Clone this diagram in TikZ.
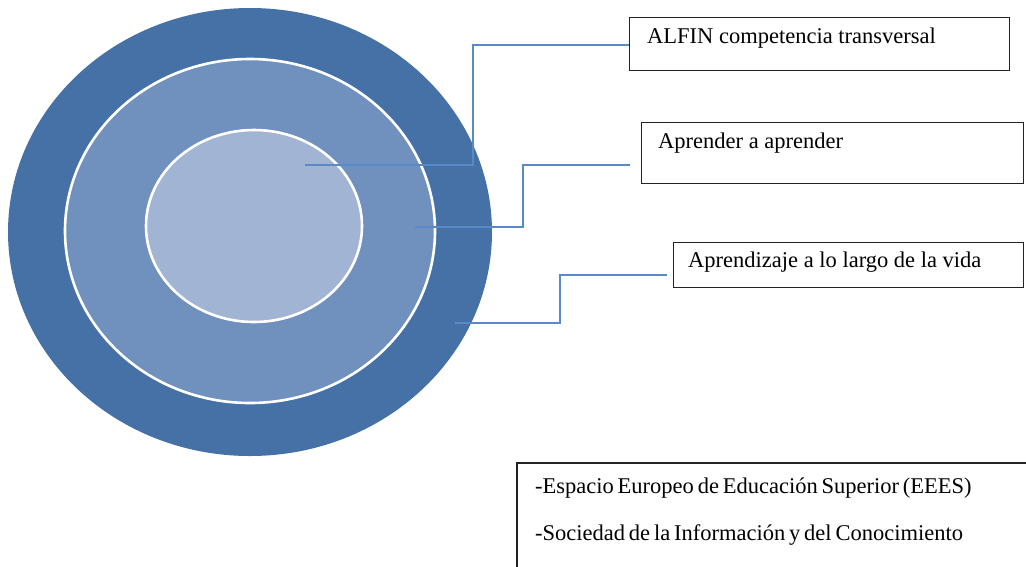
\documentclass[tikz,border=0pt]{standalone}
\usepackage{fontspec}
\setmainfont{Liberation Serif}
\definecolor{outerblue}{HTML}{4571A7}
\definecolor{midblue}{HTML}{7090BE}
\definecolor{innerblue}{HTML}{A2B4D4}
\definecolor{linkblue}{HTML}{5A8AC6}
\definecolor{boxline}{HTML}{222222}
\begin{document}
\begin{tikzpicture}[x=1pt,y=-1pt,
  box/.style={draw=boxline,line width=1.4pt,fill=white,inner sep=0pt,anchor=north west},
  lbl/.style={anchor=base west,inner sep=0pt,font=\fontsize{22.5}{27}\selectfont},
  tight/.style={lbl,execute at begin node={\spaceskip=0.17em plus 0.05em\relax}},
  link/.style={draw=linkblue,line width=1.2pt},
  ring/.style={draw=white,line width=2.6pt}]
\useasboundingbox (0,0) rectangle (1026,566);
% rings
\fill[outerblue] (250,232) ellipse [x radius=242,y radius=224];
\filldraw[ring,fill=midblue] (250,231) ellipse [x radius=185,y radius=172];
\filldraw[ring,fill=innerblue] (254,226) ellipse [x radius=108,y radius=96];
% anchor points inside rings
\coordinate (p1) at (305,165);
\coordinate (p2) at (415,227);
\coordinate (p3) at (455,323);
\coordinate (e2) at (630,165);
\coordinate (e3) at (667,275);
% boxes
\node[box,minimum width=380pt,minimum height=53pt] (b1) at (629,17) {};
\node[box,minimum width=382pt,minimum height=61pt] (b2) at (641,122) {};
\node[box,minimum width=350pt,minimum height=45pt] (b3) at (673,242) {};
\draw[boxline,line width=1.4pt] (1040,463) -- (517,463) -- (517,580);
\node[lbl] (t1) at (647,43) {ALFIN competencia transversal};
\node[lbl] (t2) at (658,148) {Aprender a aprender};
\node[lbl] (t3) at (688,267) {Aprendizaje a lo largo de la vida};
\node[tight] (t4) at (535,493) {-Espacio Europeo de Educación Superior (EEES)};
\node[tight] (t5) at (535,540) {-Sociedad de la Información y del Conocimiento};
% connectors
\draw[link] (p1) -- (473,165) |- (b1.west |- 0,45);
\draw[link] (p2) -- (523,227) |- (e2);
\draw[link] (p3) -- (560,323) |- (e3);
\end{tikzpicture}
\end{document}
